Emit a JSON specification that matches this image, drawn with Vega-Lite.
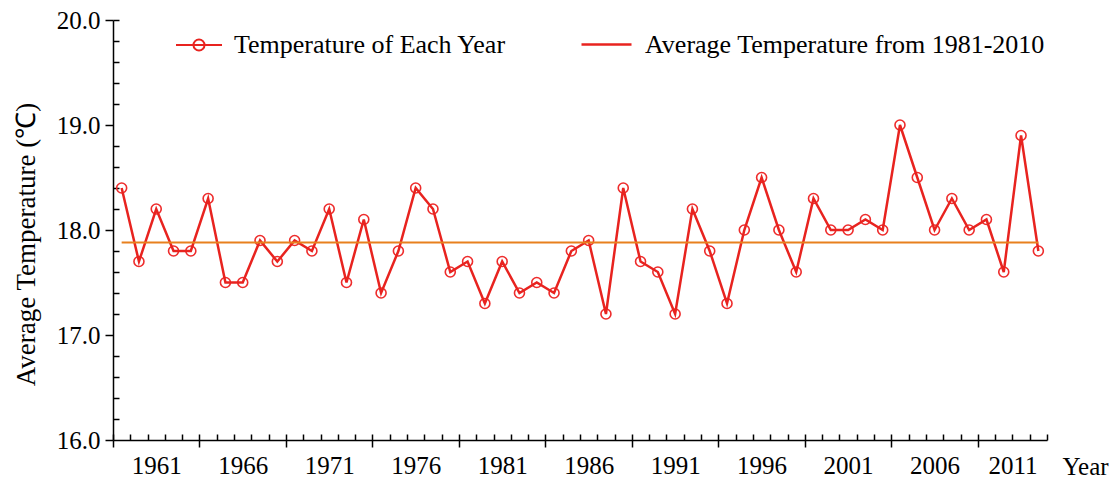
{
  "$schema": "https://vega.github.io/schema/vega-lite/v6.json",
  "width": 934,
  "height": 420,
  "autosize": "none",
  "padding": {"left": 113, "top": 20, "right": 71, "bottom": 42},
  "background": "white",
  "config": {
    "view": {"stroke": null},
    "font": "Liberation Serif",
    "axis": {
      "domainColor": "#000",
      "tickColor": "#000",
      "labelColor": "#000",
      "titleColor": "#000",
      "labelFont": "Liberation Serif",
      "titleFont": "Liberation Serif",
      "domainWidth": 1.5,
      "tickWidth": 1.5,
      "grid": false
    },
    "legend": {"labelFont": "Liberation Serif", "labelColor": "#000", "labelLimit": 0}
  },
  "datasets": {
    "temps": [
      {"year": 1961, "temp": 18.4, "series": "Temperature of Each Year"},
      {"year": 1962, "temp": 17.7, "series": "Temperature of Each Year"},
      {"year": 1963, "temp": 18.2, "series": "Temperature of Each Year"},
      {"year": 1964, "temp": 17.8, "series": "Temperature of Each Year"},
      {"year": 1965, "temp": 17.8, "series": "Temperature of Each Year"},
      {"year": 1966, "temp": 18.3, "series": "Temperature of Each Year"},
      {"year": 1967, "temp": 17.5, "series": "Temperature of Each Year"},
      {"year": 1968, "temp": 17.5, "series": "Temperature of Each Year"},
      {"year": 1969, "temp": 17.9, "series": "Temperature of Each Year"},
      {"year": 1970, "temp": 17.7, "series": "Temperature of Each Year"},
      {"year": 1971, "temp": 17.9, "series": "Temperature of Each Year"},
      {"year": 1972, "temp": 17.8, "series": "Temperature of Each Year"},
      {"year": 1973, "temp": 18.2, "series": "Temperature of Each Year"},
      {"year": 1974, "temp": 17.5, "series": "Temperature of Each Year"},
      {"year": 1975, "temp": 18.1, "series": "Temperature of Each Year"},
      {"year": 1976, "temp": 17.4, "series": "Temperature of Each Year"},
      {"year": 1977, "temp": 17.8, "series": "Temperature of Each Year"},
      {"year": 1978, "temp": 18.4, "series": "Temperature of Each Year"},
      {"year": 1979, "temp": 18.2, "series": "Temperature of Each Year"},
      {"year": 1980, "temp": 17.6, "series": "Temperature of Each Year"},
      {"year": 1981, "temp": 17.7, "series": "Temperature of Each Year"},
      {"year": 1982, "temp": 17.3, "series": "Temperature of Each Year"},
      {"year": 1983, "temp": 17.7, "series": "Temperature of Each Year"},
      {"year": 1984, "temp": 17.4, "series": "Temperature of Each Year"},
      {"year": 1985, "temp": 17.5, "series": "Temperature of Each Year"},
      {"year": 1986, "temp": 17.4, "series": "Temperature of Each Year"},
      {"year": 1987, "temp": 17.8, "series": "Temperature of Each Year"},
      {"year": 1988, "temp": 17.9, "series": "Temperature of Each Year"},
      {"year": 1989, "temp": 17.2, "series": "Temperature of Each Year"},
      {"year": 1990, "temp": 18.4, "series": "Temperature of Each Year"},
      {"year": 1991, "temp": 17.7, "series": "Temperature of Each Year"},
      {"year": 1992, "temp": 17.6, "series": "Temperature of Each Year"},
      {"year": 1993, "temp": 17.2, "series": "Temperature of Each Year"},
      {"year": 1994, "temp": 18.2, "series": "Temperature of Each Year"},
      {"year": 1995, "temp": 17.8, "series": "Temperature of Each Year"},
      {"year": 1996, "temp": 17.3, "series": "Temperature of Each Year"},
      {"year": 1997, "temp": 18.0, "series": "Temperature of Each Year"},
      {"year": 1998, "temp": 18.5, "series": "Temperature of Each Year"},
      {"year": 1999, "temp": 18.0, "series": "Temperature of Each Year"},
      {"year": 2000, "temp": 17.6, "series": "Temperature of Each Year"},
      {"year": 2001, "temp": 18.3, "series": "Temperature of Each Year"},
      {"year": 2002, "temp": 18.0, "series": "Temperature of Each Year"},
      {"year": 2003, "temp": 18.0, "series": "Temperature of Each Year"},
      {"year": 2004, "temp": 18.1, "series": "Temperature of Each Year"},
      {"year": 2005, "temp": 18.0, "series": "Temperature of Each Year"},
      {"year": 2006, "temp": 19.0, "series": "Temperature of Each Year"},
      {"year": 2007, "temp": 18.5, "series": "Temperature of Each Year"},
      {"year": 2008, "temp": 18.0, "series": "Temperature of Each Year"},
      {"year": 2009, "temp": 18.3, "series": "Temperature of Each Year"},
      {"year": 2010, "temp": 18.0, "series": "Temperature of Each Year"},
      {"year": 2011, "temp": 18.1, "series": "Temperature of Each Year"},
      {"year": 2012, "temp": 17.6, "series": "Temperature of Each Year"},
      {"year": 2013, "temp": 18.9, "series": "Temperature of Each Year"},
      {"year": 2014, "temp": 17.8, "series": "Temperature of Each Year"}
    ],
    "avg": [
      {"start": 1961, "end": 2014, "avg": 17.88, "name": "Average Temperature from 1981-2010"}
    ]
  },
  "resolve": {"axis": {"x": "independent", "y": "independent"}},
  "layer": [
    {
      "data": {"name": "temps"},
      "mark": {"type": "point", "shape": "circle", "filled": false, "stroke": "#ee2c2c", "strokeWidth": 1.6, "size": 100, "opacity": 1},
      "encoding": {
        "x": {
          "field": "year", "type": "quantitative",
          "scale": {"domain": [1960.5, 2014.5], "nice": false, "zero": false},
          "axis": {
            "orient": "bottom",
            "values": [1960.5, 1961.5, 1962.5, 1963.5, 1964.5, 1965.5, 1966.5, 1967.5, 1968.5, 1969.5, 1970.5, 1971.5, 1972.5, 1973.5, 1974.5, 1975.5, 1976.5, 1977.5, 1978.5, 1979.5, 1980.5, 1981.5, 1982.5, 1983.5, 1984.5, 1985.5, 1986.5, 1987.5, 1988.5, 1989.5, 1990.5, 1991.5, 1992.5, 1993.5, 1994.5, 1995.5, 1996.5, 1997.5, 1998.5, 1999.5, 2000.5, 2001.5, 2002.5, 2003.5, 2004.5, 2005.5, 2006.5, 2007.5, 2008.5, 2009.5, 2010.5, 2011.5, 2012.5, 2013.5, 2014.5],
            "tickSize": -6,
            "labels": false,
            "domain": true,
            "title": null
          }
        },
        "y": {
          "field": "temp", "type": "quantitative",
          "scale": {"domain": [16, 20], "nice": false, "zero": false},
          "axis": {
            "orient": "left",
            "values": [16.2, 16.4, 16.6, 16.8, 17.2, 17.4, 17.6, 17.8, 18.2, 18.4, 18.6, 18.8, 19.2, 19.4, 19.6, 19.8, 20],
            "tickSize": -6,
            "labels": false,
            "domain": false,
            "title": null
          }
        }
      }
    },
    {
      "data": {"name": "temps"},
      "mark": {"type": "line", "strokeWidth": 2.5},
      "encoding": {
        "x": {
          "field": "year", "type": "quantitative",
          "scale": {"domain": [1960.5, 2014.5], "nice": false, "zero": false},
          "axis": {
            "orient": "bottom",
            "values": [1963, 1968, 1973, 1978, 1983, 1988, 1993, 1998, 2003, 2008, 2012.5],
            "labelExpr": "datum.value > 2012 ? '2011' : format(datum.value - 2, 'd')",
            "ticks": false,
            "domain": false,
            "labelPadding": 13,
            "labelFontSize": 25,
            "labelOverlap": false,
            "labelFlush": false,
            "labelBound": false,
            "title": "Year",
            "titleFontSize": 25,
            "titleFontWeight": "normal",
            "titleX": 949,
            "titleY": 34,
            "titleAlign": "left",
            "titleBaseline": "alphabetic"
          }
        },
        "y": {
          "field": "temp", "type": "quantitative",
          "scale": {"domain": [16, 20], "nice": false, "zero": false},
          "axis": {
            "orient": "left",
            "values": [16, 17, 18, 19, 20],
            "format": ".1f",
            "tickSize": 8,
            "labelPadding": 5,
            "labelFontSize": 25,
            "domain": true,
            "title": "Average Temperature (℃)",
            "titleFontSize": 27,
            "titleFontWeight": "normal",
            "titleX": -87,
            "titleY": 224,
            "titleAngle": 270,
            "titleAlign": "center",
            "titleBaseline": "middle"
          }
        },
        "color": {
          "field": "series", "type": "nominal",
          "scale": {"domain": ["Temperature of Each Year"], "range": ["#e8231f"]},
          "legend": {
            "orient": "none",
            "legendX": 62,
            "legendY": 1,
            "title": null,
            "padding": 0,
            "symbolType": "M-1,0H1M0.24,0A0.24,0.24,0,1,1,-0.24,0A0.24,0.24,0,1,1,0.24,0",
            "symbolSize": 2116,
            "symbolStrokeWidth": 2,
            "symbolFillColor": "transparent",
            "labelFontSize": 26,
            "labelOffset": 11,
            "labelLimit": 0
          }
        }
      }
    },
    {
      "data": {"name": "avg"},
      "mark": {"type": "rule", "strokeWidth": 2, "color": "#e8801e"},
      "encoding": {
        "x": {
          "field": "start", "type": "quantitative",
          "scale": {"domain": [1960.5, 2014.5], "nice": false, "zero": false},
          "axis": {
            "orient": "bottom",
            "values": [1960.5, 1965.5, 1970.5, 1975.5, 1980.5, 1985.5, 1990.5, 1995.5, 2000.5, 2005.5, 2010.5],
            "tickSize": 7,
            "labels": false,
            "domain": false,
            "title": null
          }
        },
        "x2": {"field": "end"},
        "y": {
          "field": "avg", "type": "quantitative",
          "scale": {"domain": [16, 20], "nice": false, "zero": false},
          "axis": null
        }
      }
    },
    {
      "data": {"name": "avg"},
      "mark": {"type": "rule", "strokeWidth": 2.5, "strokeOpacity": 0},
      "encoding": {
        "x": {
          "field": "start", "type": "quantitative",
          "scale": {"domain": [1960.5, 2014.5], "nice": false, "zero": false},
          "axis": null
        },
        "x2": {"field": "end"},
        "y": {
          "field": "avg", "type": "quantitative",
          "scale": {"domain": [16, 20], "nice": false, "zero": false},
          "axis": null
        },
        "stroke": {
          "field": "name", "type": "nominal",
          "scale": {"domain": ["Average Temperature from 1981-2010"], "range": ["#e8231f"]},
          "legend": {
            "orient": "none",
            "legendX": 467,
            "legendY": -2,
            "title": null,
            "padding": 0,
            "symbolType": "stroke",
            "symbolSize": 2500,
            "symbolStrokeWidth": 2.5,
            "symbolOpacity": 1,
            "labelFontSize": 26,
            "labelOffset": 12,
            "labelLimit": 0
          }
        }
      }
    }
  ]
}
